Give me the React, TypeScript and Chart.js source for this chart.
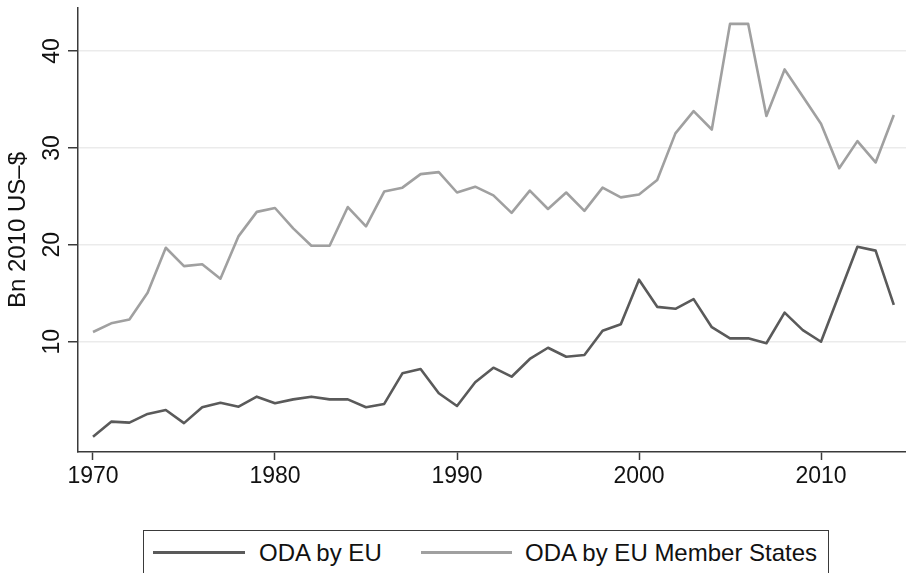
import React, { useEffect, useRef } from "react";
import { Chart, registerables } from "chart.js";

Chart.register(...registerables);

const years = [
  1970, 1971, 1972, 1973, 1974, 1975, 1976, 1977, 1978, 1979,
  1980, 1981, 1982, 1983, 1984, 1985, 1986, 1987, 1988, 1989,
  1990, 1991, 1992, 1993, 1994, 1995, 1996, 1997, 1998, 1999,
  2000, 2001, 2002, 2003, 2004, 2005, 2006, 2007, 2008, 2009,
  2010, 2011, 2012, 2013, 2014,
];

const odaEU = [
  0.2, 1.75, 1.65, 2.55, 2.96, 1.6, 3.24, 3.7, 3.3, 4.33,
  3.65, 4.05, 4.33, 4.05, 4.05, 3.24, 3.58, 6.74, 7.19, 4.68,
  3.37, 5.81, 7.32, 6.39, 8.22, 9.38, 8.45, 8.63, 11.13, 11.8,
  16.4, 13.6, 13.4, 14.4, 11.5, 10.35, 10.35, 9.84, 13.0, 11.2,
  10.0, 14.9, 19.8, 19.4, 13.8,
];

const odaMemberStates = [
  11.0, 11.9, 12.3, 15.05, 19.7, 17.8, 18.0, 16.5, 20.9, 23.4,
  23.8, 21.7, 19.9, 19.9, 23.9, 21.9, 25.5, 25.9, 27.3, 27.5,
  25.4, 26.0, 25.1, 23.3, 25.6, 23.7, 25.4, 23.5, 25.9, 24.9,
  25.2, 26.7, 31.5, 33.8, 31.9, 42.8, 42.8, 33.3, 38.1, 35.3,
  32.5, 27.9, 30.7, 28.5, 33.4,
];

const xTicks = [1970, 1980, 1990, 2000, 2010];
const yTicks = [10, 20, 30, 40];
const seriesLabels = ["ODA by EU", "ODA by EU Member States"];
const yTitle = "Bn 2010 US\u2013$";

const FONT = "'Liberation Sans', Arial, Helvetica, sans-serif";
const EU_COLOR = "#5a5a5a";
const MS_COLOR = "#a0a0a0";
const AXIS_COLOR = "#3a3a3a";

export default function App() {
  const ref = useRef<HTMLCanvasElement>(null);

  useEffect(() => {
    const canvas = ref.current;
    if (!canvas) return;
    const chart = new Chart(canvas, {
      type: "line",
      data: {
        datasets: [
          {
            label: seriesLabels[0],
            data: years.map((x, i) => ({ x, y: odaEU[i] })),
            borderColor: EU_COLOR,
            backgroundColor: EU_COLOR,
            borderWidth: 2.6,
            pointRadius: 0,
            tension: 0,
            borderJoinStyle: "round",
            fill: false,
          },
          {
            label: seriesLabels[1],
            data: years.map((x, i) => ({ x, y: odaMemberStates[i] })),
            borderColor: MS_COLOR,
            backgroundColor: MS_COLOR,
            borderWidth: 2.6,
            pointRadius: 0,
            tension: 0,
            borderJoinStyle: "round",
            fill: false,
          },
        ],
      },
      options: {
        responsive: false,
        animation: false,
        layout: { padding: { top: 8, left: 0, right: 0, bottom: 0 } },
        plugins: {
          legend: { display: false },
          tooltip: { enabled: false },
        },
        scales: {
          x: {
            type: "linear",
            min: 1969.176,
            max: 2014.67,
            afterBuildTicks: (s: any) => {
              s.ticks = xTicks.map((v) => ({ value: v }));
            },
            afterFit: (s: any) => {
              s.height = 121;
              s.paddingLeft = 0;
              s.paddingRight = 0;
            },
            ticks: {
              font: { family: FONT, size: 23 },
              color: "#111",
              padding: 3,
              minRotation: 0,
              maxRotation: 0,
              autoSkip: false,
              callback: (v: any) => String(v),
            },
            grid: {
              drawOnChartArea: false,
              drawTicks: true,
              tickLength: 8,
              tickColor: AXIS_COLOR,
              tickWidth: 1.5,
            },
            border: { display: true, color: AXIS_COLOR, width: 1.5 },
          },
          y: {
            type: "linear",
            min: -1.38,
            max: 44.44,
            afterBuildTicks: (s: any) => {
              s.ticks = yTicks.map((v) => ({ value: v }));
            },
            afterFit: (s: any) => {
              s.width = 78;
              s.paddingTop = 0;
              s.paddingBottom = 0;
            },
            ticks: {
              font: { family: FONT, size: 23 },
              color: "#111",
              padding: 3,
              minRotation: 90,
              maxRotation: 90,
              crossAlign: "center",
              autoSkip: false,
              callback: (v: any) => String(v),
            },
            grid: {
              drawOnChartArea: true,
              color: "#ebebeb",
              lineWidth: 1.5,
              drawTicks: true,
              tickLength: 10,
              tickColor: AXIS_COLOR,
              tickWidth: 1.5,
            },
            border: { display: true, color: AXIS_COLOR, width: 1.5 },
            title: {
              display: true,
              text: yTitle,
              font: { family: FONT, size: 24 },
              color: "#111",
              padding: { top: 4, bottom: 0 },
            },
          },
        },
      },
    });
    return () => chart.destroy();
  }, []);

  const textStyle: React.CSSProperties = {
    position: "absolute",
    fontFamily: FONT,
    fontSize: 24,
    lineHeight: "24px",
    color: "#111",
    whiteSpace: "nowrap",
    top: 541,
  };

  return (
    <div
      style={{
        position: "fixed",
        left: 0,
        top: 0,
        width: 906,
        height: 573,
        overflow: "hidden",
        background: "#fff",
      }}
    >
      <canvas ref={ref} width={906} height={573} style={{ display: "block" }} />
      <div
        style={{
          position: "absolute",
          left: 143,
          top: 530,
          width: 686,
          height: 70,
          border: `1.5px solid ${AXIS_COLOR}`,
          boxSizing: "border-box",
          background: "#fff",
        }}
      />
      <div
        style={{
          position: "absolute",
          left: 153,
          top: 551,
          width: 92,
          height: 3,
          background: EU_COLOR,
        }}
      />
      <span style={{ ...textStyle, left: 259 }}>{seriesLabels[0]}</span>
      <div
        style={{
          position: "absolute",
          left: 421,
          top: 551,
          width: 91,
          height: 3,
          background: MS_COLOR,
        }}
      />
      <span style={{ ...textStyle, left: 525 }}>{seriesLabels[1]}</span>
    </div>
  );
}
